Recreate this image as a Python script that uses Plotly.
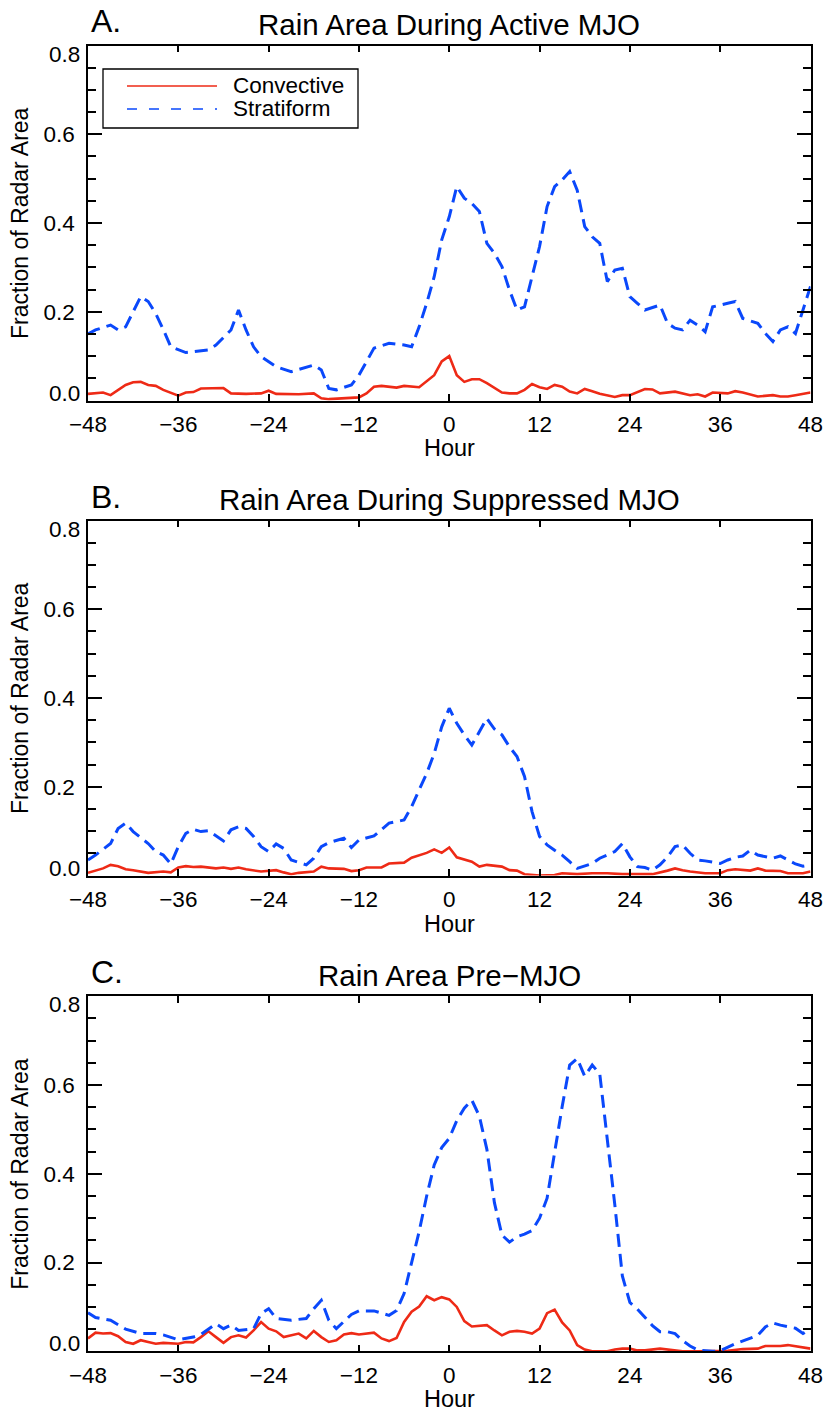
import plotly.graph_objects as go

# ---------------- data ----------------
hours_a_conv = [-48,-46,-45,-43,-42,-41,-40,-39,-38,-36,-35,-34,-33,-32,-30,-29,-27,-25,-24,-23,
                -21,-20,-18,-17,-16,-14,-12,-11,-10,-9,-7,-6,-4,-2,-1,0,1,2,3,4,
                5,7,8,9,10,11,12,13,14,15,16,17,18,19,20,22,23,24,26,27,
                28,30,31,32,33,34,35,37,38,39,41,43,44,45,46,48]
a_conv = [0.015,0.018,0.012,0.035,0.041,0.042,0.035,0.033,0.024,0.011,
          0.018,0.019,0.027,0.027,0.028,0.016,0.015,0.016,0.022,0.015,
          0.015,0.014,0.016,0.005,0.003,0.005,0.007,0.016,0.031,0.033,
          0.029,0.033,0.030,0.057,0.088,0.100,0.057,0.042,0.048,0.048,
          0.039,0.018,0.016,0.016,0.024,0.037,0.030,0.026,0.035,0.031,
          0.020,0.016,0.026,0.021,0.015,0.008,0.012,0.012,0.026,0.025,
          0.016,0.020,0.016,0.012,0.014,0.009,0.018,0.016,0.021,0.018,
          0.009,0.012,0.009,0.009,0.012,0.018]

hours_a_strat = [-48,-47,-45,-44,-43,-41,-40,-39,-38,-37,-35,-33,-32,-31,-29,-28,-27,-26,-25,-23,
                 -21,-18,-17,-16,-15,-13,-12,-10,-8,-6,-5,-4,-3,-2,-1,0,1,2,3,4,
                 5,6,7,8,9,10,11,12,13,14,15,16,17,18,19,20,21,22,23,24,25,26,
                 28,29,30,31,32,33,34,35,37,38,39,41,42,43,44,45,46,47,48]
a_strat = [0.150,0.159,0.170,0.159,0.166,0.234,0.223,0.196,0.160,0.121,
           0.108,0.112,0.114,0.125,0.159,0.204,0.159,0.121,0.099,0.076,
           0.065,0.080,0.069,0.027,0.024,0.035,0.057,0.118,0.129,0.125,
           0.121,0.166,0.219,0.279,0.362,0.414,0.482,0.456,0.444,0.426,
           0.354,0.332,0.302,0.249,0.204,0.211,0.279,0.347,
           0.437,0.482,0.497,0.516,0.474,0.392,0.369,0.354,0.268,0.294,0.298,0.234,0.219,0.204,
           0.215,0.174,0.163,0.159,0.181,0.170,0.155,0.211,
           0.219,0.223,0.185,
           0.174,0.151,0.133,0.159,0.166,0.151,0.204,0.257]

hours_b_conv = [-48,-46,-45,-44,-43,-42,-40,-38,-37,-36,-35,-34,-33,-31,-30,-29,-28,-27,-25,-23,
                -22,-21,-20,-18,-17,-16,-14,-13,-12,-11,-9,-8,-6,-5,-3,-2,-1,0,1,3,
                4,5,7,8,9,10,12,14,15,17,19,21,23,25,27,29,30,31,32,34,
                36,37,38,40,41,42,44,45,47,48]
b_conv = [0.006,0.016,0.024,0.021,0.014,0.012,0.006,0.009,0.007,0.018,
          0.021,0.019,0.020,0.016,0.018,0.015,0.018,0.014,0.009,0.012,
          0.007,0.003,0.006,0.009,0.020,0.016,0.015,0.010,0.012,0.018,
          0.018,0.027,0.029,0.040,0.051,0.059,0.051,0.063,0.041,0.031,
          0.020,0.024,0.020,0.012,0.011,0.003,0.000,0.001,0.005,0.003,
          0.005,0.005,0.003,0.003,0.003,0.011,0.016,0.012,0.009,0.005,
          0.005,0.012,0.014,0.011,0.016,0.011,0.010,0.005,0.005,0.009]

hours_b_strat = [-48,-47,-45,-44,-43,-42,-40,-39,-38,-37,-36,-35,-34,-33,-32,-30,-29,-28,-27,-26,
                 -25,-24,-23,-22,-21,-19,-18,-17,-16,-14,-13,-12,-10,-9,-8,-6,-5,-4,-3,-2,
                 -1,0,1,2,3,4,5,6,7,8,9,10,11,12,13,14,15,16,17,
                 19,20,22,23,24,25,26,27,28,29,30,31,32,33,34,35,36,37,38,39,40,41,
                 43,44,45,46,47,48]
b_strat = [0.035,0.046,0.072,0.106,0.118,0.099,0.072,0.054,0.046,0.026,
           0.065,0.095,0.104,0.099,0.101,0.078,0.103,0.110,0.106,0.088,
           0.065,0.054,0.071,0.061,0.035,0.024,0.039,0.065,0.074,0.084,
           0.063,0.080,0.089,0.103,0.118,0.125,0.155,0.193,0.230,0.275,
           0.335,0.377,0.343,0.317,0.294,0.324,0.354,0.330,0.317,0.290,0.268,0.223,0.144,0.088,0.069,0.057,0.046,0.031,0.016,
           0.027,0.039,0.054,0.072,0.042,0.020,0.018,0.012,0.024,0.042,
           0.065,0.069,0.050,0.035,0.033,0.030,0.027,0.035,0.041,0.044,0.057,0.046,
           0.039,0.044,0.035,0.026,0.021,0.024]

hours_c_conv = [-48,-47,-46,-45,-44,-43,-42,-41,-40,-39,-38,
                -36,-35,-34,-33,-32,-31,-30,-29,-28,-27,-26,-25,-24,-23,-22,
                -20,-19,-18,-17,-16,-15,-14,-13,-12,
                -10,-9,-8,-7,-6,-5,-4,-3,-2,-1,0,1,2,3,
                5,6,7,8,9,10,11,12,13,14,15,16,17,18,19,
                21,22,23,24,25,26,
                28,29,31,33,35,37,39,41,42,44,45,46,48]
c_conv = [0.029,0.042,0.040,0.041,0.034,0.021,0.017,0.025,0.021,0.017,0.019,
          0.017,0.021,0.020,0.032,0.045,0.032,0.019,0.032,0.036,0.031,0.047,0.066,0.051,0.045,0.032,
          0.040,0.029,0.046,0.032,0.021,0.025,0.038,0.041,0.038,
          0.042,0.029,0.023,0.030,0.066,0.089,0.101,0.124,0.115,0.122,0.117,0.100,0.068,0.056,
          0.059,0.047,0.036,0.044,0.046,0.044,0.040,0.051,0.086,0.094,0.065,0.047,0.014,0.004,0.000,
          0.000,0.004,0.006,0.006,0.002,0.002,
          0.006,0.004,0.000,0.000,0.000,0.001,0.005,0.006,0.012,0.012,0.014,0.011,0.006]

hours_c_strat = [-48,-47,-45,-43,-41,-39,-38,-36,-34,-33,
                 -31,-30,-29,-28,-26,-25,-24,-23,-21,-19,
                 -18,-17,-16,-15,-13,-12,-10,-8,-7,-6,
                 -5,-4,-3,-2,-1,0,1,2,3,4,5,6,7,8,9,10,11,12,13,14,15,16,17,18,19,
                 20,21,22,23,24,25,26,27,28,29,30,31,32,33,
                 35,36,38,40,41,42,43,44,46,47,48]
c_strat = [0.087,0.076,0.070,0.050,0.040,0.040,0.037,0.026,0.032,0.038,
           0.062,0.051,0.059,0.047,0.051,0.085,0.096,0.074,0.070,0.074,
           0.096,0.115,0.070,0.051,0.083,0.091,0.091,0.081,0.092,0.130,
           0.200,0.270,0.350,0.420,0.459,0.480,0.520,0.548,0.566,0.530,0.455,0.335,0.262,0.246,0.258,
           0.264,0.272,0.300,0.345,0.450,0.551,0.645,0.660,0.620,0.645,
           0.625,0.480,0.330,0.170,0.110,0.095,0.076,0.058,0.044,0.044,0.040,0.024,0.012,0.003,
           0.000,0.001,0.017,0.030,0.036,0.055,0.064,0.059,0.052,0.040,0.051]

panel_letters = ["A.", "B.", "C."]
panel_titles = ["Rain Area During Active MJO", "Rain Area During Suppressed MJO", "Rain Area Pre\u2212MJO"]
x_ticks = [-48, -36, -24, -12, 0, 12, 24, 36, 48]
y_inner_ticks = [0.2, 0.4, 0.6]
y_end_ticks = [0.0, 0.8]
series_names = ["Convective", "Stratiform"]

# ---------------- layout / style ----------------
W, H = 828, 1414
FONT = "Liberation Sans, Arial, Helvetica, sans-serif"
RED = "#ee2a16"
BLUE = "#0a48fb"
DASH = "13px,7px"
X0, X1 = 88, 810.5
PANELS = [(45.5, 400.5), (520.5, 875.5), (996.3, 1351.3)]
TICKFONT = dict(family=FONT, size=22.5, color="black")

data = [(hours_a_conv, a_conv, hours_a_strat, a_strat),
        (hours_b_conv, b_conv, hours_b_strat, b_strat),
        (hours_c_conv, c_conv, hours_c_strat, c_strat)]


def px(x):
    return x / W


def py(y):
    return 1 - y / H


fig = go.Figure()
annotations = []
shapes = []
for i, (hc, vc, hs, vs) in enumerate(data):
    sfx = "" if i == 0 else str(i + 1)
    fig.add_trace(go.Scatter(x=hc, y=vc, mode="lines", name=series_names[0],
                             line=dict(color=RED, width=2.6), showlegend=False,
                             xaxis="x" + sfx, yaxis="y" + sfx))
    fig.add_trace(go.Scatter(x=hs, y=vs, mode="lines", name=series_names[1],
                             line=dict(color=BLUE, width=3, dash=DASH), showlegend=False,
                             xaxis="x" + sfx, yaxis="y" + sfx))
    top, bot = PANELS[i]
    fig.layout["xaxis" + sfx] = dict(
        domain=[px(X0), px(X1)], anchor="y" + sfx, range=[-48, 48], automargin=False,
        tickmode="array", tickvals=x_ticks, ticks="inside", ticklen=7, tickwidth=1.5,
        tickcolor="black", showline=True, linewidth=1.5, linecolor="black", mirror="ticks",
        showgrid=False, zeroline=False, ticklabelstandoff=3, tickfont=TICKFONT)
    fig.layout["yaxis" + sfx] = dict(
        domain=[py(bot), py(top)], anchor="x" + sfx, range=[0, 0.8], automargin=False,
        tickmode="array", tickvals=y_inner_ticks, tickformat=".1f",
        ticks="inside", ticklen=14, tickwidth=1.5, tickcolor="black",
        minor=dict(tickmode="linear", tick0=0, dtick=0.05, ticks="inside", ticklen=8,
                   tickwidth=1.5, tickcolor="black", showgrid=False),
        showline=True, linewidth=1.5, linecolor="black", mirror="ticks",
        showgrid=False, zeroline=False, ticklabelstandoff=7, tickfont=TICKFONT)
    # end labels of the y axis sit just inside the axis span, as in the original
    for val, shift in zip(y_end_ticks, [7.5, -8.5]):
        annotations.append(dict(text=f"{val:.1f}", x=px(82), y=val, xref="paper", yref="y" + sfx,
                                xanchor="right", yanchor="middle", yshift=shift,
                                showarrow=False, font=TICKFONT))
    cx = (X0 + X1) / 2
    annotations.append(dict(text=panel_letters[i], x=px(89), y=py(top - 24),
                            xref="paper", yref="paper", xanchor="left", yanchor="middle",
                            showarrow=False, font=dict(family=FONT, size=32, color="black")))
    annotations.append(dict(text=panel_titles[i], x=px(cx), y=py(top - 21),
                            xref="paper", yref="paper", xanchor="center", yanchor="middle",
                            showarrow=False, font=dict(family=FONT, size=29.5, color="black")))
    annotations.append(dict(text="Hour", x=px(cx), y=py(bot + 48),
                            xref="paper", yref="paper", xanchor="center", yanchor="middle",
                            showarrow=False, font=dict(family=FONT, size=23.5, color="black")))
    annotations.append(dict(text="Fraction of Radar Area", x=px(20), y=py((top + bot) / 2),
                            xref="paper", yref="paper", xanchor="center", yanchor="middle",
                            textangle=-90, showarrow=False,
                            font=dict(family=FONT, size=23, color="black")))

# legend box (panel A)
shapes.append(dict(type="rect", xref="paper", yref="paper",
                   x0=px(103), x1=px(358), y0=py(128), y1=py(69),
                   line=dict(color="black", width=1.3), fillcolor="white", layer="above"))
shapes.append(dict(type="line", xref="paper", yref="paper",
                   x0=px(127), x1=px(217), y0=py(86), y1=py(86),
                   line=dict(color=RED, width=1.6), layer="above"))
shapes.append(dict(type="line", xref="paper", yref="paper",
                   x0=px(127), x1=px(217), y0=py(109), y1=py(109),
                   line=dict(color=BLUE, width=1.6, dash="10px,12px"), layer="above"))
for name, yy in zip(series_names, [86, 109]):
    annotations.append(dict(text=name, x=px(231), y=py(yy), xref="paper", yref="paper",
                            xanchor="left", yanchor="middle", showarrow=False,
                            font=dict(family=FONT, size=22.5, color="black")))

fig.update_layout(
    width=W, height=H, margin=dict(l=0, r=0, t=0, b=0, pad=0, autoexpand=False),
    paper_bgcolor="white", plot_bgcolor="white",
    annotations=annotations, shapes=shapes, showlegend=False,
)

fig.write_html("out.html",
               post_script="document.body.style.margin='0px';document.body.style.overflow='hidden';")
